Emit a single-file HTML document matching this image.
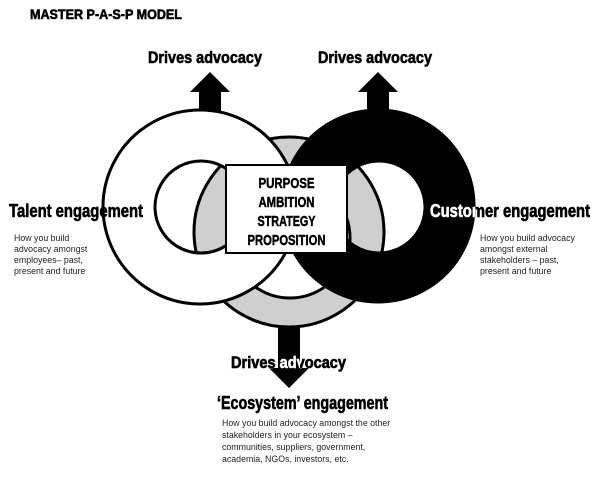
<!DOCTYPE html>
<html><head><meta charset="utf-8"><style>
html,body{margin:0;padding:0;background:#fff;}
svg{display:block;}
.h{font-family:"Liberation Sans Narrow","Liberation Sans",sans-serif;font-weight:bold;}
.d{font-family:"Liberation Sans",sans-serif;font-size:8.8px;fill:#222;}
</style></head><body>
<svg width="600" height="489" viewBox="0 0 600 489" xmlns="http://www.w3.org/2000/svg">
<rect width="600" height="489" fill="#fff"/>
<!-- arrows -->
<polygon points="210,72 230,92 221,92 221,112 199,112 199,92 190,92" fill="#000"/>
<polygon points="378,72 398,92 389,92 389,112 367,112 367,92 358,92" fill="#000"/>
<polygon points="278,320 300,320 300,368 309,368 289,388 269,368 278,368" fill="#000"/>
<!-- grey ring -->
<path d="M289,137 a95,95 0 1,0 0.01,0 Z M290,178 a60,60 0 1,1 -0.01,0 Z" fill="#cfcfcf" fill-rule="evenodd" stroke="#000" stroke-width="3"/>
<!-- left white ring -->
<path d="M200,110 a97,97 0 1,0 0.01,0 Z M201,161 a46,46 0 1,1 -0.01,0 Z" fill="#fff" fill-rule="evenodd" stroke="#000" stroke-width="3"/>
<!-- right black ring -->
<path d="M378,110 a96,96 0 1,0 0.01,0 Z M379,161 a46,46 0 1,1 -0.01,0 Z" fill="#000" fill-rule="evenodd" stroke="#000" stroke-width="3"/>
<!-- box -->
<rect x="226" y="165" width="121" height="88" fill="#fff" stroke="#000" stroke-width="2"/>
<g class="h" font-size="15" text-anchor="middle" stroke="#000" stroke-width="0.5">
<text x="286.5" y="188" textLength="56" lengthAdjust="spacingAndGlyphs">PURPOSE</text>
<text x="286.5" y="207" textLength="56" lengthAdjust="spacingAndGlyphs">AMBITION</text>
<text x="286.5" y="226" textLength="58" lengthAdjust="spacingAndGlyphs">STRATEGY</text>
<text x="286.5" y="245" textLength="78" lengthAdjust="spacingAndGlyphs">PROPOSITION</text>
</g>
<g class="h" stroke-width="0.6">
<text x="30" y="19" font-size="14" stroke="#000" textLength="152" lengthAdjust="spacingAndGlyphs">MASTER P-A-S-P MODEL</text>
<text x="148" y="63" font-size="17" stroke="#000" textLength="114" lengthAdjust="spacingAndGlyphs">Drives advocacy</text>
<text x="318" y="63" font-size="17" stroke="#000" textLength="114" lengthAdjust="spacingAndGlyphs">Drives advocacy</text>
<text x="9" y="217" font-size="18" stroke="#000" textLength="134" lengthAdjust="spacingAndGlyphs">Talent engagement</text>
<text x="430" y="217" font-size="18" stroke="#fff" textLength="160" lengthAdjust="spacingAndGlyphs" fill="#fff" style="mix-blend-mode:difference">Customer engagement</text>
<text x="231" y="368" font-size="17" stroke="#fff" textLength="115" lengthAdjust="spacingAndGlyphs" fill="#fff" style="mix-blend-mode:difference">Drives advocacy</text>
<text x="217" y="409" font-size="18" stroke="#000" textLength="171" lengthAdjust="spacingAndGlyphs">‘Ecosystem’ engagement</text>
</g>
<g class="d">
<text x="14" y="241">How you build</text>
<text x="14" y="252">advocacy amongst</text>
<text x="14" y="263">employees– past,</text>
<text x="14" y="274">present and future</text>
<text x="480" y="241">How you build advocacy</text>
<text x="480" y="252">amongst external</text>
<text x="480" y="263">stakeholders – past,</text>
<text x="480" y="274">present and future</text>
<text x="222" y="426">How you build advocacy amongst the other</text>
<text x="222" y="438">stakeholders in your ecosystem –</text>
<text x="222" y="450">communities, suppliers, government,</text>
<text x="222" y="462">academia, NGOs, investors, etc.</text>
</g>
</svg>
</body></html>
